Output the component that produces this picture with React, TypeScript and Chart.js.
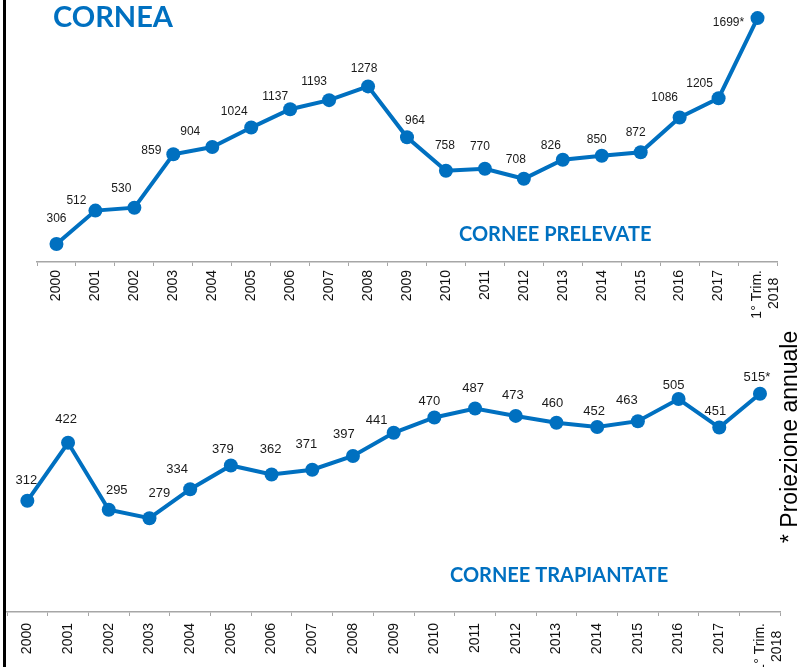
import React, { useEffect, useRef } from 'react';
import { Chart, registerables } from 'chart.js';

Chart.register(...registerables);

// ---- data ----
const categories: (string | string[])[] = [
  '2000', '2001', '2002', '2003', '2004', '2005', '2006', '2007', '2008', '2009',
  '2010', '2011', '2012', '2013', '2014', '2015', '2016', '2017', ['1° Trim.', '2018  '],
];
const cornee_prelevate = [306, 512, 530, 859, 904, 1024, 1137, 1193, 1278, 964, 758, 770, 708, 826, 850, 872, 1086, 1205, 1699];
const cornee_trapiantate = [312, 422, 295, 279, 334, 379, 362, 371, 397, 441, 470, 487, 473, 460, 452, 463, 505, 451, 515];
const projectedIndex = 18; // last value is an annual projection (*)

const mainTitle = 'CORNEA';
const titlePrelevate = 'CORNEE PRELEVATE';
const titleTrapiantate = 'CORNEE TRAPIANTATE';
const footnote = '* Proiezione annuale';

// ---- styles ----
const BLUE = '#0070C0';
const AXIS = '#a6a6a6';
const LABEL_FONT = "'Liberation Sans', Arial, sans-serif";
const TITLE_FONT = "Lato, 'Open Sans', sans-serif";

// label offsets (px) relative to each point, as placed in the original
const topDx = [0, -19, -13, -22, -22, -17, -15, -15, -4, 8, -1, -5, -8, -12, -5, -5, -15, -19, -29];
const topDy = [-26, -11, -20, -5, -16, -17, -14, -19, -19, -18, -26, -23, -20, -15, -17, -21, -21, -16, 4];
const botDx = [-1, -2, 8, 10, -13, -8, -1, -6, -9, -17, -5, -2, -3, -4, -3, -11, -5, -4, -3];
const botDy = [-21, -24, -20, -26, -21, -17, -26, -26, -23, -13, -17, -21, -22, -20, -17, -22, -15, -17, -17];

type Txt = { text: string; x: number; y: number; font: string; color: string; rotate?: boolean };

interface Cfg {
  values: number[];
  dx: number[];
  dy: number[];
  labelSize: number;
  padding: { left: number; right: number; top: number; bottom: number };
  axisH: number;
  tickPad: number;
  min: number;
  max: number;
  texts: Txt[];
}

function makeChart(canvas: HTMLCanvasElement, cfg: Cfg) {
  const overlay = {
    id: 'overlay',
    afterDatasetsDraw(chart: any) {
      const ctx = chart.ctx as CanvasRenderingContext2D;
      const meta = chart.getDatasetMeta(0);
      ctx.save();
      ctx.fillStyle = '#1a1a1a';
      ctx.font = `${cfg.labelSize}px ${LABEL_FONT}`;
      ctx.textAlign = 'center';
      ctx.textBaseline = 'alphabetic';
      meta.data.forEach((pt: any, i: number) => {
        const label = String(cfg.values[i]) + (i === projectedIndex ? '*' : '');
        ctx.fillText(label, pt.x + cfg.dx[i], pt.y + cfg.dy[i] + cfg.labelSize * 0.36);
      });
      ctx.restore();
    },
    afterDraw(chart: any) {
      const ctx = chart.ctx as CanvasRenderingContext2D;
      cfg.texts.forEach((t) => {
        ctx.save();
        ctx.font = t.font;
        ctx.fillStyle = t.color;
        ctx.textAlign = 'left';
        ctx.textBaseline = 'alphabetic';
        ctx.translate(t.x, t.y);
        if (t.rotate) ctx.rotate(-Math.PI / 2);
        ctx.fillText(t.text, 0, 0);
        ctx.restore();
      });
    },
  };

  return new Chart(canvas, {
    type: 'line',
    data: {
      labels: categories as any,
      datasets: [
        {
          data: cfg.values,
          borderColor: BLUE,
          backgroundColor: BLUE,
          borderWidth: 4,
          pointRadius: 7,
          pointHoverRadius: 7,
          pointBorderWidth: 0,
          pointBackgroundColor: BLUE,
          tension: 0,
          clip: false as any,
        },
      ],
    },
    options: {
      responsive: false,
      animation: false,
      devicePixelRatio: 1,
      events: [],
      layout: { padding: cfg.padding },
      plugins: { legend: { display: false }, tooltip: { enabled: false }, title: { display: false } },
      scales: {
        x: {
          type: 'category',
          offset: true,
          grid: { offset: true, drawOnChartArea: false, drawTicks: true, tickLength: 4, color: AXIS, lineWidth: 1 },
          border: { display: true, color: AXIS, width: 1.5 },
          ticks: {
            autoSkip: false,
            maxRotation: 90,
            minRotation: 90,
            padding: cfg.tickPad,
            color: '#111',
            font: { family: LABEL_FONT, size: 14 },
          },
          afterFit: (s: any) => {
            s.height = cfg.axisH;
          },
        },
        y: { display: false, min: cfg.min, max: cfg.max },
      },
    },
    plugins: [overlay],
  });
}

export default function App() {
  const topRef = useRef<HTMLCanvasElement>(null);
  const botRef = useRef<HTMLCanvasElement>(null);

  useEffect(() => {
    const top = makeChart(topRef.current!, {
      values: cornee_prelevate,
      dx: topDx,
      dy: topDy,
      labelSize: 12,
      padding: { left: 37, right: 24, top: 10, bottom: 0 },
      axisH: 78,
      tickPad: 4,
      min: 195,
      max: 1749,
      texts: [
        { text: mainTitle, x: 53, y: 27, font: `bold 29px ${TITLE_FONT}`, color: BLUE },
        { text: titlePrelevate, x: 459, y: 241, font: `bold 20px ${TITLE_FONT}`, color: BLUE },
      ],
    });
    const bot = makeChart(botRef.current!, {
      values: cornee_trapiantate,
      dx: botDx,
      dy: botDy,
      labelSize: 13,
      padding: { left: 4, right: 16, top: 10, bottom: 0 },
      axisH: 68,
      tickPad: 7,
      min: 101,
      max: 636,
      texts: [
        { text: titleTrapiantate, x: 450, y: 262, font: `bold 20px ${TITLE_FONT}`, color: BLUE },
        { text: footnote, x: 797, y: 223, font: `23px ${LABEL_FONT}`, color: '#000', rotate: true },
      ],
    });
    return () => {
      top.destroy();
      bot.destroy();
    };
  }, []);

  return (
    <div
      style={{
        position: 'fixed',
        left: 0,
        top: 0,
        width: 801,
        height: 667,
        overflow: 'hidden',
        background: '#fff',
      }}
    >
      <canvas ref={botRef} width={801} height={360} style={{ position: 'absolute', left: 0, top: 320, width: 801, height: 360 }} />
      <canvas ref={topRef} width={801} height={340} style={{ position: 'absolute', left: 0, top: 0, width: 801, height: 340 }} />
      <div style={{ position: 'absolute', left: 3, top: 0, width: 3, height: 667, background: '#000' }} />
    </div>
  );
}
